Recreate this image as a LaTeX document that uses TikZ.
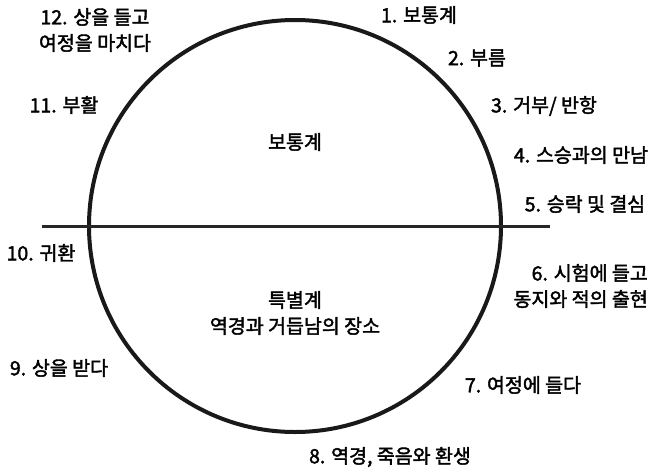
\documentclass[tikz,border=0pt]{standalone}
\usepackage{fontspec}
\setmainfont{Noto Sans CJK KR}[UprightFeatures={FakeBold=2.0}]
\begin{document}
\begin{tikzpicture}[x=1pt,y=-1pt,
  lbl/.style={font=\fontsize{19.5}{26}\selectfont, inner sep=0pt, align=center}]
\useasboundingbox (0,0) rectangle (659,472);
\node[circle, draw=black!90, line width=4pt, minimum size=412pt, inner sep=0pt] (world) at (295,226) {};
\coordinate (lineL) at (42,226);
\coordinate (lineR) at (550,226);
\draw[line width=3pt, black!85] (lineL) -- (lineR);
\node[lbl] (t12) at (95,30) {12. 상을 들고\\여정을 마치다};
\node[lbl] (t11) at (64,105) {11. 부활};
\node[lbl] (t1) at (419,15) {1. 보통계};
\node[lbl] (t2) at (477,58) {2. 부름};
\node[lbl] (t3) at (544,106) {3. 거부/ 반항};
\node[lbl] (t4) at (581,155) {4. 스승과의 만남};
\node[lbl] (t5) at (585,204) {5. 승락 및 결심};
\node[lbl, align=right, anchor=east] (t6) at (648,286) {6. 시험에 들고\\동지와 적의 출현};
\node[lbl] (t7) at (523,385) {7. 여정에 들다};
\node[lbl] (t8) at (390,457) {8. 역경, 죽음와 환생};
\node[lbl] (t9) at (59,368) {9. 상을 받다};
\node[lbl] (t10) at (41,253) {10. 귀환};
\node[lbl] (ordinary) at (295,142) {보통계};
\node[lbl] (special) at (295,313) {특별계\\역경과 거듭남의 장소};
\end{tikzpicture}
\end{document}
